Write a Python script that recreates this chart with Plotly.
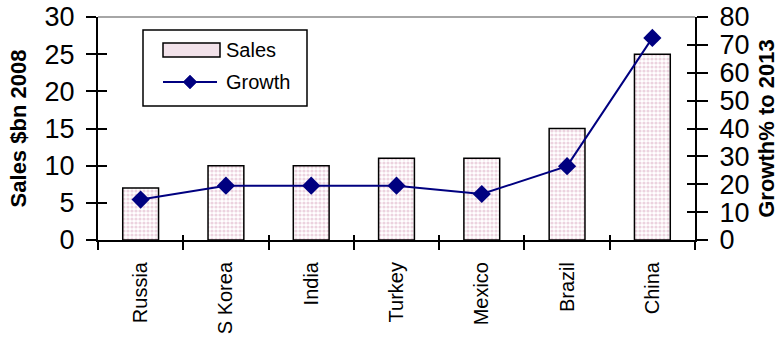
import plotly.graph_objects as go

categories = ["Russia", "S Korea", "India", "Turkey", "Mexico", "Brazil", "China"]
sales = [7, 10, 10, 11, 11, 15, 25]
growth = [14.5, 19.5, 19.5, 19.5, 16.5, 26.5, 72.5]

left_ticks = [0, 5, 10, 15, 20, 25, 30]
right_ticks = [0, 10, 20, 30, 40, 50, 60, 70, 80]
legend_labels = ["Sales", "Growth"]

FONT = "Liberation Sans, Arial, sans-serif"
NAVY = "#000080"
PINK_FILL = "#f2e2ea"

# plot area in pixels (for converting legend decoration to paper coords)
L, R, T, B = 98, 695, 17, 240
W, H = R - L, B - T
def px(x):
    return (x - L) / W
def py(y):
    return (B - y) / H

fig = go.Figure()
fig.add_trace(go.Bar(
    x=categories, y=sales, name=legend_labels[0],
    marker=dict(color="white",
                line=dict(color="black", width=1.5),
                pattern=dict(shape=".", fgcolor="#d9a8c0", bgcolor="white", size=4, solidity=0.5)),
    yaxis="y", showlegend=False,
))
fig.add_trace(go.Scatter(
    x=categories, y=growth, name=legend_labels[1], mode="lines+markers",
    line=dict(color=NAVY, width=2),
    marker=dict(symbol="diamond", size=14, color=NAVY),
    yaxis="y2", showlegend=False,
))

boundaries = [i + 0.5 for i in range(len(categories) - 1)]

tick_common = dict(tickwidth=2, tickcolor="black", showgrid=False, zeroline=False, automargin=False)

# manual legend (box, swatches, texts)
dcx, dcy, dh = 190, 82, 7
shapes = [
    dict(type="line", xref="paper", yref="paper", x0=0, x1=1, y0=1, y1=1,
         line=dict(color="#888888", width=1.5)),
    dict(type="rect", xref="paper", yref="paper", x0=px(143), x1=px(307), y0=py(106), y1=py(30),
         line=dict(color="black", width=1.5), fillcolor="white", layer="above"),
    dict(type="rect", xref="paper", yref="paper", x0=px(163), x1=px(220), y0=py(57), y1=py(43),
         line=dict(color="black", width=1.5), fillcolor=PINK_FILL, layer="above"),
    dict(type="line", xref="paper", yref="paper", x0=px(163), x1=px(217), y0=py(82), y1=py(82),
         line=dict(color=NAVY, width=2), layer="above"),
    dict(type="path", xref="paper", yref="paper",
         path=f"M {px(dcx-dh)} {py(dcy)} L {px(dcx)} {py(dcy-dh)} L {px(dcx+dh)} {py(dcy)} L {px(dcx)} {py(dcy+dh)} Z",
         fillcolor=NAVY, line=dict(color=NAVY, width=0.5), layer="above"),
]
annotations = [
    dict(text=legend_labels[0], xref="paper", yref="paper", x=px(224), y=py(50),
         xanchor="left", yanchor="middle", showarrow=False, font=dict(size=20, family=FONT)),
    dict(text=legend_labels[1], xref="paper", yref="paper", x=px(224), y=py(82),
         xanchor="left", yanchor="middle", showarrow=False, font=dict(size=20, family=FONT)),
]

fig.update_layout(
    width=783, height=337,
    margin=dict(l=L, r=783 - R, t=T, b=337 - B, autoexpand=False),
    plot_bgcolor="white", paper_bgcolor="white",
    font=dict(family=FONT, color="black"),
    bargap=0.58,
    showlegend=False,
    xaxis=dict(type="category", showline=True, linecolor="black", linewidth=2,
               ticks="outside", tickson="boundaries", ticklen=8, ticklabelstandoff=12,
               tickangle=-90, tickfont=dict(size=20, family=FONT), **tick_common),
    xaxis2=dict(overlaying="x", range=[-0.5, len(categories) - 0.5], tickvals=boundaries,
                ticks="inside", ticklen=5, showticklabels=False, showline=False,
                side="bottom", **tick_common),
    yaxis=dict(range=[0, 30], tickvals=left_ticks, showline=True, linecolor="black", linewidth=2,
               ticks="outside", ticklen=10, ticklabelstandoff=6,
               tickfont=dict(size=27, family=FONT),
               title=dict(text="<b>Sales $bn 2008</b>", font=dict(size=22, family=FONT), standoff=12),
               **tick_common),
    yaxis3=dict(range=[0, 30], tickvals=left_ticks, overlaying="y", side="left",
                ticks="inside", ticklen=9, showticklabels=False, showline=False, **tick_common),
    yaxis2=dict(range=[0, 80], tickvals=right_ticks, overlaying="y", side="right",
                showline=True, linecolor="black", linewidth=2,
                ticks="outside", ticklen=11, ticklabelstandoff=6,
                tickfont=dict(size=27, family=FONT),
                title=dict(text="<b>Growth% to 2013</b>", font=dict(size=22, family=FONT), standoff=10),
                **tick_common),
    yaxis4=dict(range=[0, 80], tickvals=right_ticks, overlaying="y", side="right",
                ticks="inside", ticklen=8, showticklabels=False, showline=False, **tick_common),
    shapes=shapes,
    annotations=annotations,
)

# invisible helper traces so the overlay tick axes are drawn
fig.add_trace(go.Scatter(x=[None], y=[None], xaxis="x2", yaxis="y3", showlegend=False, hoverinfo="skip"))
fig.add_trace(go.Scatter(x=[None], y=[None], xaxis="x2", yaxis="y4", showlegend=False, hoverinfo="skip"))

fig.write_html("out.html")
